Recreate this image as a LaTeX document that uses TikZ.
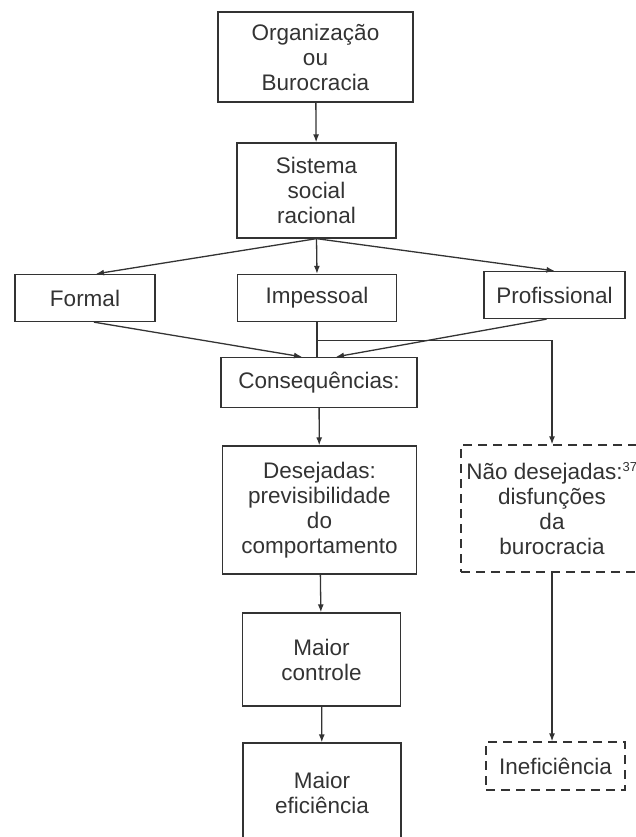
\documentclass[tikz,border=0pt]{standalone}
\usepackage{fontspec}
\setmainfont{Liberation Sans}
\usetikzlibrary{calc,arrows.meta}
\definecolor{tinta}{gray}{0.2}

\begin{document}
\begin{tikzpicture}[>={Latex[length=8pt,width=6pt]},x=1pt,y=-1pt,line width=1.3pt,
	caixa/.style={draw=tinta,text=tinta,align=center,inner sep=0pt,
		font=\fontsize{22.5}{25}\selectfont},
	tracejada/.style={caixa,dashed,dash pattern=on 9pt off 6pt},
	seta/.style={->,draw=tinta}]
	\useasboundingbox (0,0) rectangle (636,837);
	\clip (0,0) rectangle (636,837);

	% coluna central
	\node[caixa,minimum width=195,minimum height=90] (org) at (315.5,57)
		{Organização\\ou\\Burocracia};
	\node[caixa,minimum width=159,minimum height=95] (sis) at (316.5,190.5)
		{Sistema\\social\\racional};

	% tres caracteristicas
	\node[caixa,minimum width=140,minimum height=47] (formal) at (85,298) {Formal};
	\node[caixa,minimum width=159,minimum height=47] (impes) at (317,298) {Impessoal};
	\node[caixa,minimum width=141,minimum height=47] (prof) at (554.5,295) {Profissional};

	\node[caixa,minimum width=196,minimum height=50] (cons) at (319,382.5) {Consequências:};

	% desejadas
	\node[caixa,minimum width=194,minimum height=128] (des) at (319.5,510)
		{Desejadas:\\previsibilidade\\do\\comportamento};
	\node[caixa,minimum width=158,minimum height=93] (mctrl) at (321.5,659.5)
		{Maior\\controle};
	\node[caixa,minimum width=158,minimum height=100] (mefic) at (322,793)
		{Maior\\eficiência};

	% nao desejadas
	\node[tracejada,minimum width=182,minimum height=127] (nao) at (552,508.5)
		{Não desejadas:\textsuperscript{\fontsize{13}{13}\selectfont 37}\\disfunções\\da\\burocracia};
	\node[tracejada,minimum width=139,minimum height=48] (inef) at (555.5,766)
		{Ineficiência};

	\draw[seta] (org) -- (sis);
	\draw[seta] (sis.south) -- ([xshift=11]formal.north);
	\draw[seta] (sis.south) -- (impes.north);
	\draw[seta] (sis.south) -- (prof.north);

	\draw[seta] ([xshift=9]formal.south) -- ([xshift=-17]cons.north);
	\draw[seta] ([xshift=-8]prof.south) -- ([xshift=17]cons.north);
	\draw[draw=tinta] (impes.south) -- (impes.south |- cons.north);
	\coordinate (ramo) at ($(impes.south)+(0,18)$);
	\draw[seta] (ramo) -| (nao.north);

	\draw[seta] (cons) -- (des);
	\draw[seta] (des) -- (mctrl);
	\draw[seta] (mctrl) -- (mefic);
	\draw[seta] (nao.south) -- (nao.south |- inef.north);
\end{tikzpicture}
\end{document}
